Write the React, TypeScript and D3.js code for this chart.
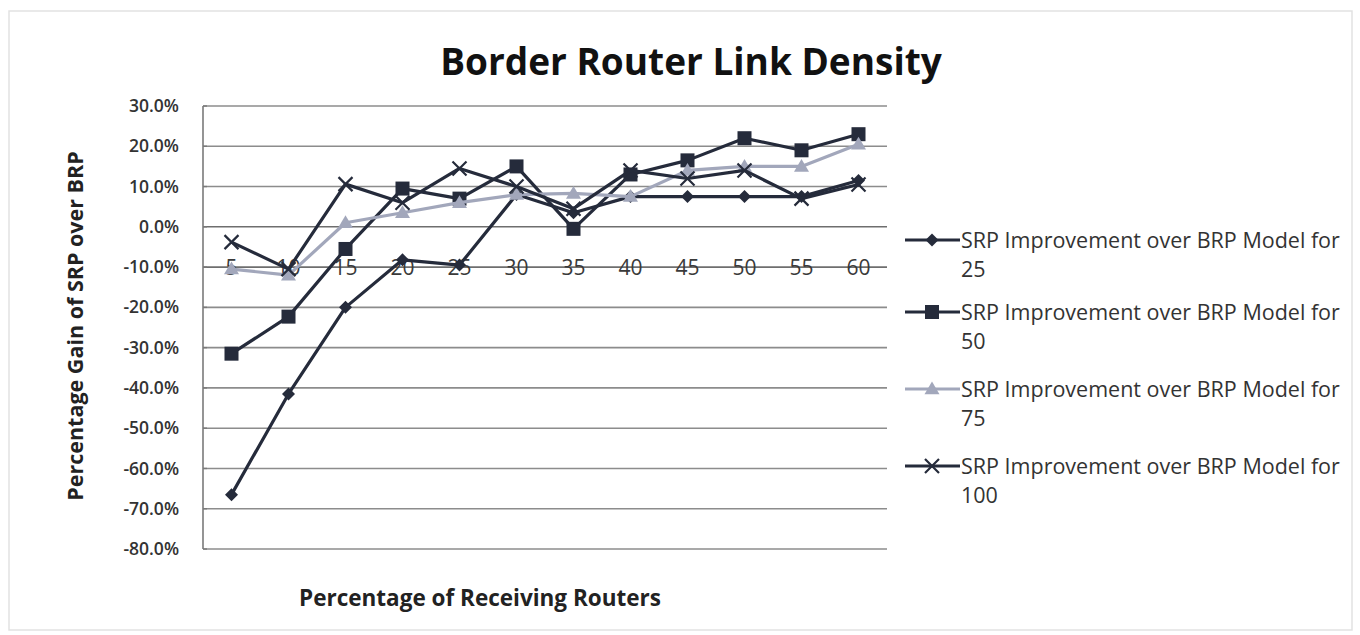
import React from "react";
import * as d3 from "d3";

// Percentage of receiving routers (category axis)
const categories = [5, 10, 15, 20, 25, 30, 35, 40, 45, 50, 55, 60];

// Percentage gain of SRP over BRP for each border-router link density
const model25 = [-66.5, -41.5, -20, -8.2, -9.5, 8, 3.5, 7.5, 7.5, 7.5, 7.5, 11.5];
const model50 = [-31.5, -22.3, -5.5, 9.5, 7, 15, -0.5, 13, 16.5, 22, 19, 23];
const model75 = [-10.5, -12, 1, 3.5, 6, 8, 8.3, 7.5, 14, 15, 15, 20.5];
const model100 = [-3.8, -10.5, 10.6, 6, 14.5, 10, 4.5, 14, 12, 14, 7, 10.5];

const yTicks = [30, 20, 10, 0, -10, -20, -30, -40, -50, -60, -70, -80];

const seriesNames = [
  "SRP Improvement over BRP Model for",
  "SRP Improvement over BRP Model for",
  "SRP Improvement over BRP Model for",
  "SRP Improvement over BRP Model for",
];
const seriesSuffix = ["25", "50", "75", "100"];

const DARK = "#252b3b";
const LIGHT = "#a2a7bb";
const FONT = "'Open Sans', Lato, sans-serif";

type Marker = "diamond" | "square" | "triangle" | "x";

const series: { values: number[]; color: string; marker: Marker; width: number }[] = [
  { values: model25, color: DARK, marker: "diamond", width: 3.2 },
  { values: model50, color: DARK, marker: "square", width: 3.2 },
  { values: model75, color: LIGHT, marker: "triangle", width: 3.2 },
  { values: model100, color: DARK, marker: "x", width: 3.2 },
];

function MarkerShape({ kind, x, y, color }: { kind: Marker; x: number; y: number; color: string }) {
  if (kind === "diamond") {
    const r = 6.5;
    return <path d={`M${x},${y - r}L${x + r},${y}L${x},${y + r}L${x - r},${y}Z`} fill={color} />;
  }
  if (kind === "square") {
    const s = 14;
    return <rect x={x - s / 2} y={y - s / 2} width={s} height={s} fill={color} />;
  }
  if (kind === "triangle") {
    const r = 7.5;
    return <path d={`M${x},${y - r}L${x + r},${y + r * 0.7}L${x - r},${y + r * 0.7}Z`} fill={color} />;
  }
  const r = 7;
  return (
    <path
      d={`M${x - r},${y - r}L${x + r},${y + r}M${x + r},${y - r}L${x - r},${y + r}`}
      stroke={color}
      strokeWidth={2.2}
      fill="none"
    />
  );
}

export default function App() {
  const W = 1360;
  const H = 635;
  const left = 203;
  const right = 887;
  const top = 106;
  const bottom = 549;

  const x = d3.scalePoint<number>().domain(categories).range([left, right]).padding(0.5);
  const y = d3.scaleLinear().domain([-80, 30]).range([bottom, top]);
  const line = d3
    .line<number>()
    .x((_, i) => x(categories[i]) as number)
    .y((d) => y(d));

  const fmt = (v: number) => `${v < 0 ? "-" : ""}${Math.abs(v).toFixed(1)}%`;

  const legendRows = [240, 312, 389, 466];

  return (
    <div style={{ position: "absolute", left: 0, top: 0 }}>
      <svg width={W} height={H} style={{ display: "block", background: "#fff" }}>
        <rect x={9} y={11} width={1343} height={619} fill="#fff" stroke="#e2e2e2" strokeWidth={1.5} />

        {/* title */}
        <text
          x={691}
          y={75}
          textAnchor="middle"
          fontFamily={FONT}
          fontWeight={700}
          fontSize={37}
          fill="#111"
        >
          Border Router Link Density
        </text>

        {/* gridlines */}
        {yTicks.map((t) => (
          <line
            key={t}
            x1={left}
            x2={right}
            y1={y(t)}
            y2={y(t)}
            stroke={t === 0 || t === -10 ? "#6e6e6e" : "#8c8c8c"}
            strokeWidth={1.6}
          />
        ))}
        <line x1={left} x2={left} y1={top} y2={bottom} stroke="#7a7a7a" strokeWidth={1.6} />
        {yTicks.map((t) => (
          <line key={"tk" + t} x1={left} x2={left + 4} y1={y(t)} y2={y(t)} stroke="#7a7a7a" strokeWidth={1.4} />
        ))}

        {/* y tick labels */}
        {yTicks.map((t) => (
          <text
            key={"yl" + t}
            x={179}
            y={y(t)}
            dy="0.35em"
            textAnchor="end"
            fontFamily={FONT}
            fontWeight={600}
            fontSize={17.5}
            fill="#333"
          >
            {fmt(t)}
          </text>
        ))}

        {/* category labels, drawn across the -10% line */}
        {categories.map((c) => (
          <text
            key={"xl" + c}
            x={x(c) as number}
            y={y(-10)}
            dy="0.36em"
            textAnchor="middle"
            fontFamily={FONT}
            fontSize={21}
            fill="#3a3a3a"
          >
            {c}
          </text>
        ))}

        {/* series lines and markers */}
        {series.map((s, si) => (
          <g key={"s" + si}>
            <path d={line(s.values) || ""} fill="none" stroke={s.color} strokeWidth={s.width} strokeLinejoin="round" />
            {s.values.map((v, i) => (
              <MarkerShape key={i} kind={s.marker} x={x(categories[i]) as number} y={y(v)} color={s.color} />
            ))}
          </g>
        ))}

        {/* axis titles */}
        <text
          transform={`translate(75,${326}) rotate(-90)`}
          textAnchor="middle"
          dy="0.35em"
          fontFamily={FONT}
          fontWeight={700}
          fontSize={21.5}
          fill="#222"
        >
          Percentage Gain of SRP over BRP
        </text>
        <text
          x={480}
          y={606}
          textAnchor="middle"
          fontFamily={FONT}
          fontWeight={700}
          fontSize={22.5}
          fill="#222"
        >
          Percentage of Receiving Routers
        </text>

        {/* legend: each entry wraps onto a second line */}
        {series.map((s, si) => {
          const ly = legendRows[si];
          return (
            <g key={"lg" + si}>
              <line x1={905} x2={960} y1={ly} y2={ly} stroke={s.color} strokeWidth={3} />
              <MarkerShape kind={s.marker} x={932} y={ly} color={s.color} />
              <text x={961} y={ly} dy="0.35em" fontFamily={FONT} fontSize={21.5} fill="#333">
                {seriesNames[si]}
              </text>
              <text x={961} y={ly + 29} dy="0.35em" fontFamily={FONT} fontSize={21.5} fill="#333">
                {seriesSuffix[si]}
              </text>
            </g>
          );
        })}
      </svg>
    </div>
  );
}
